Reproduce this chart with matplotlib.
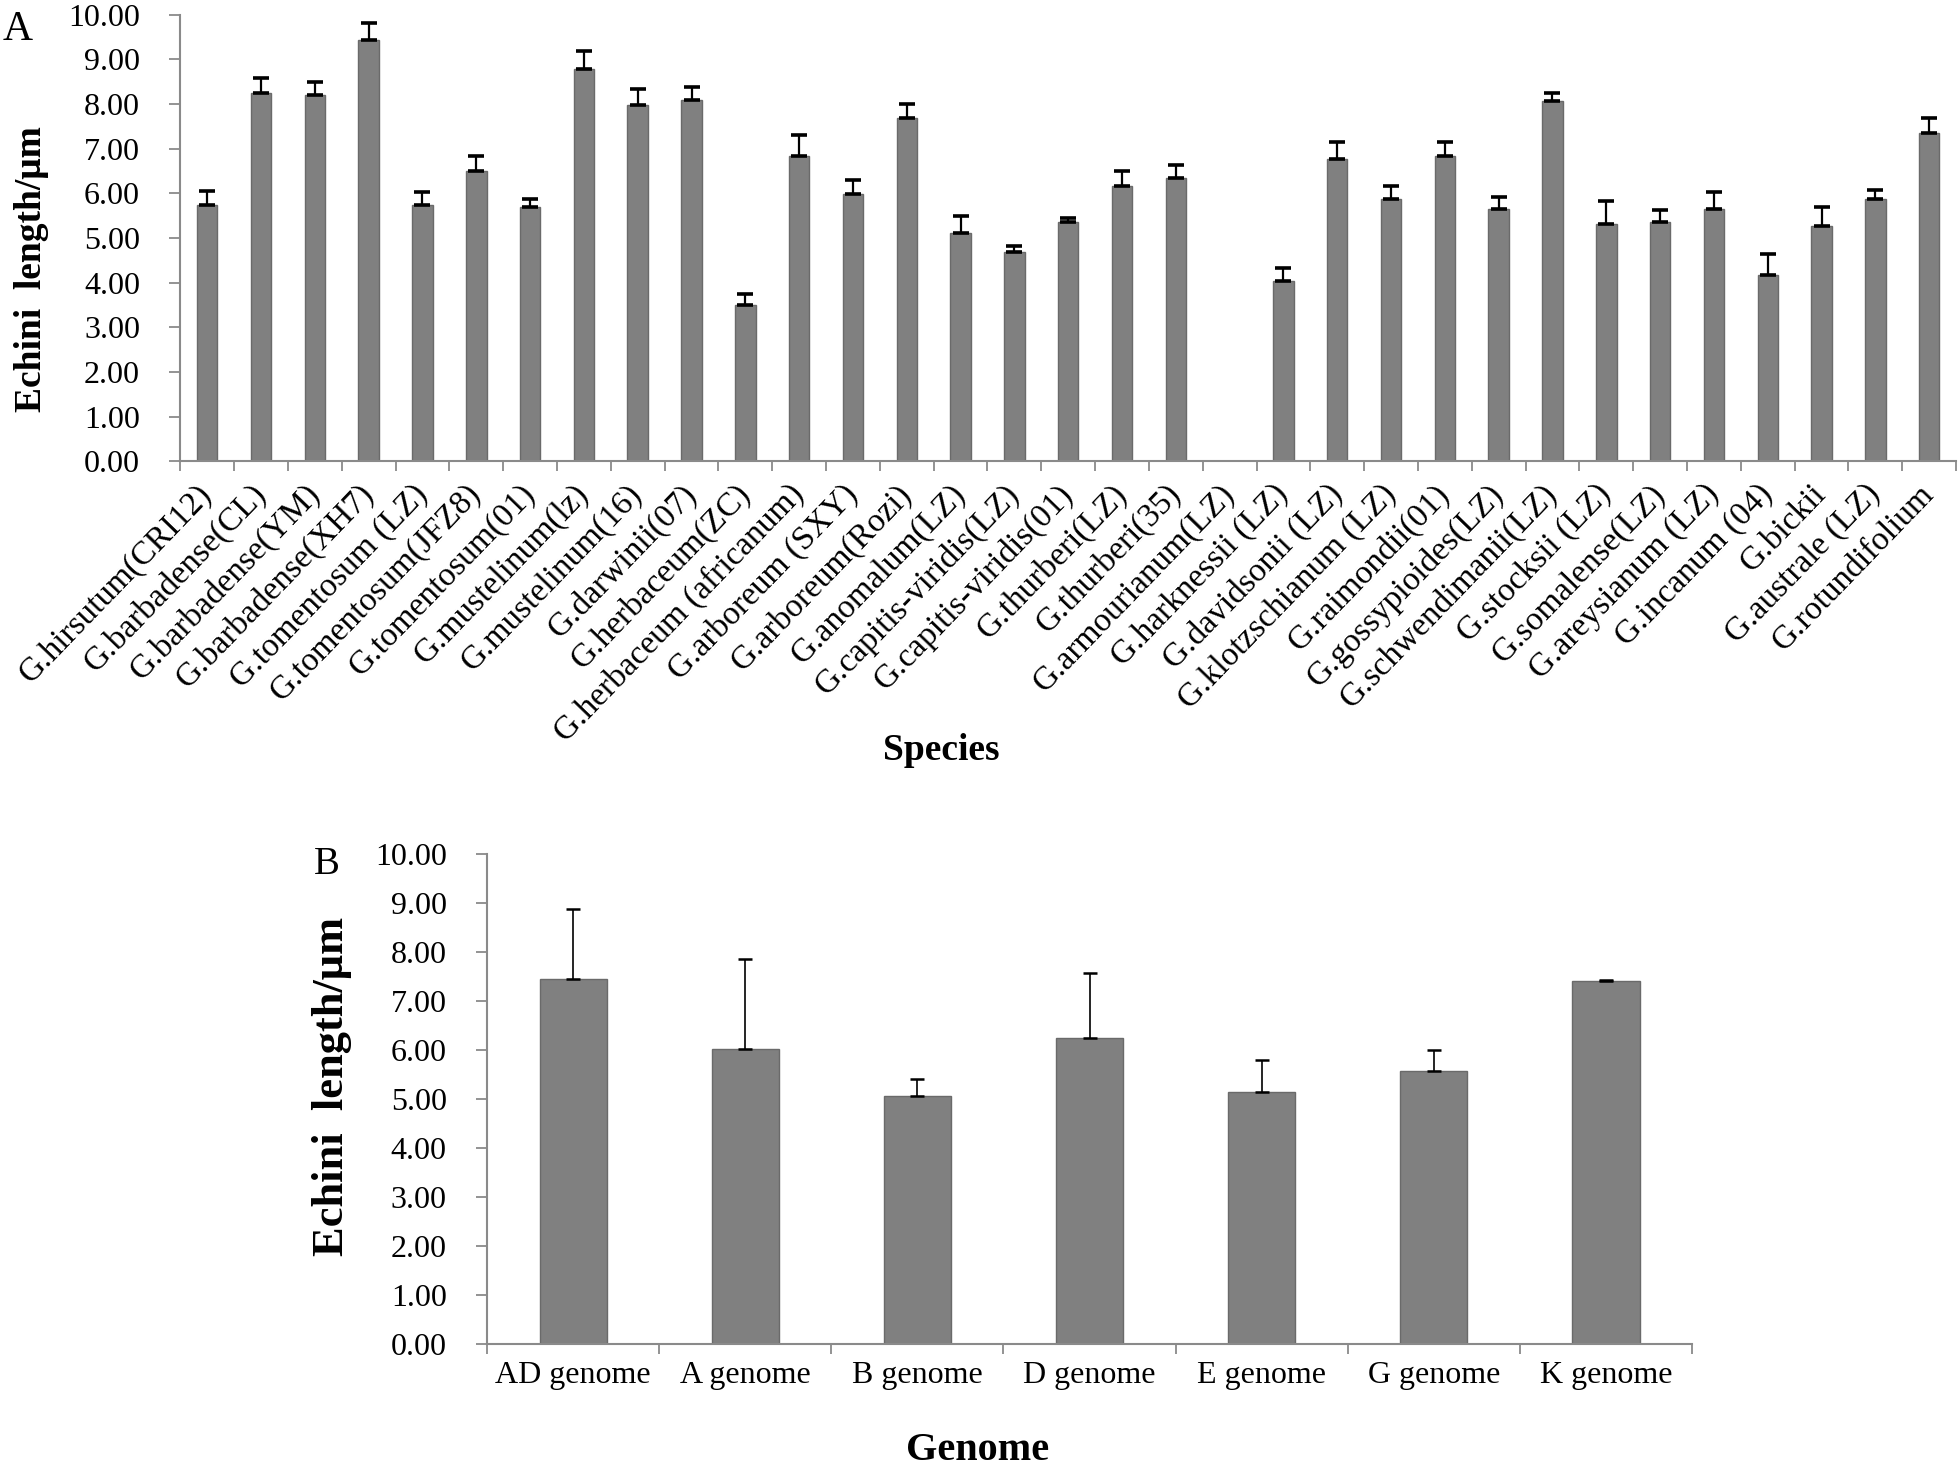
import matplotlib
matplotlib.use("Agg")
import matplotlib.pyplot as plt
import numpy as np

plt.rcParams['font.family'] = ['Liberation Serif', 'DejaVu Serif']

# A: species
species = ["G.hirsutum(CRI12)", "G.barbadense(CL)", "G.barbadense(YM)", "G.barbadense(XH7)",
           "G.tomentosum (LZ)", "G.tomentosum(JFZ8)", "G.tomentosum(01)", "G.mustelinum(lz)",
           "G.mustelinum(16)", "G.darwinii(07)", "G.herbaceum(ZC)", "G.herbaceum (africanum)",
           "G.arboreum (SXY)", "G.arboreum(Rozi)", "G.anomalum(LZ)", "G.capitis-viridis(LZ)",
           "G.capitis-viridis(01)", "G.thurberi(LZ)", "G.thurberi(35)", "G.armourianum(LZ)",
           "G.harknessii (LZ)", "G.davidsonii (LZ)", "G.klotzschianum (LZ)", "G.raimondii(01)",
           "G.gossypioides(LZ)", "G.schwendimanii(LZ)", "G.stocksii (LZ)", "G.somalense(LZ)",
           "G.areysianum (LZ)", "G.incanum (04)", "G.bickii", "G.australe (LZ)", "G.rotundifolium"]
species_mean = [5.74, 8.25, 8.20, 9.44, 5.74, 6.50, 5.69, 8.78, 7.97, 8.10, 3.50, 6.83,
                5.98, 7.68, 5.12, 4.69, 5.36, 6.16, 6.35, 0.0, 4.03, 6.78, 5.88, 6.83,
                5.64, 8.07, 5.32, 5.36, 5.64, 4.17, 5.26, 5.88, 7.36]
species_err = [0.32, 0.34, 0.29, 0.37, 0.28, 0.33, 0.18, 0.41, 0.37, 0.29, 0.24, 0.47,
               0.33, 0.33, 0.38, 0.14, 0.10, 0.34, 0.29, 0.0, 0.29, 0.38, 0.28, 0.33,
               0.29, 0.18, 0.52, 0.27, 0.38, 0.47, 0.43, 0.19, 0.32]

# B: genome
genomes = ["AD genome", "A genome", "B genome", "D genome", "E genome", "G genome", "K genome"]
genome_mean = [7.45, 6.02, 5.06, 6.24, 5.14, 5.58, 7.41]
genome_err = [1.43, 1.83, 0.34, 1.33, 0.66, 0.43, 0.01]

yticks = np.arange(0, 11, 1)
bar_color = "#808080"
edge_color = "#6a6a6a"
axis_color = "#8a8a8a"

fig = plt.figure(figsize=(19.6, 14.65), dpi=100)


def style_axes(ax, n):
    ax.set_ylim(0, 10)
    ax.set_xlim(-0.5, n - 0.5)
    ax.set_yticks(yticks)
    ax.set_yticklabels([f"{v:.2f}" for v in yticks])
    ax.set_xticks(np.arange(n + 1) - 0.5, minor=True)
    ax.tick_params(axis='x', which='major', length=0)
    ax.tick_params(axis='x', which='minor', length=7.5, width=1.3, color=axis_color, direction='out')
    ax.tick_params(axis='y', length=8, width=1.3, color=axis_color, direction='out', pad=21, labelsize=23)
    for s in ['top', 'right']:
        ax.spines[s].set_visible(False)
    for s in ['left', 'bottom']:
        ax.spines[s].set_color(axis_color)
        ax.spines[s].set_linewidth(1.5)


# 上段
ax1 = fig.add_axes([0.092, 0.685, 0.906, 0.305])
x1 = np.arange(len(species))
ax1.bar(x1, species_mean, width=0.38, color=bar_color, edgecolor=edge_color, linewidth=1)
mask = np.array(species_err) > 0
ax1.errorbar(x1[mask], np.array(species_mean)[mask], yerr=[np.zeros(mask.sum()), np.array(species_err)[mask]],
             fmt='none', ecolor='black', elinewidth=1.6, capsize=6, capthick=2.6)
style_axes(ax1, len(species))
ax1.set_xticks(x1)
ax1.set_xticklabels(species, rotation=46, ha='right', va='center', rotation_mode='anchor', fontsize=24)
ax1.tick_params(axis='x', which='major', pad=20)
ax1.set_ylabel("Echini  length/\u03bcm", fontsize=27, fontweight='bold')
ax1.yaxis.set_label_coords(-0.074, 0.43)

# 下段
ax2 = fig.add_axes([0.2485, 0.0826, 0.6148, 0.3344])
x2 = np.arange(len(genomes))
ax2.bar(x2, genome_mean, width=0.39, color=bar_color, edgecolor=edge_color, linewidth=1)
ax2.errorbar(x2, genome_mean, yerr=[np.zeros(len(genomes)), genome_err],
             fmt='none', ecolor='black', elinewidth=1.2, capsize=5, capthick=1.8)
style_axes(ax2, len(genomes))
ax2.set_xticks(x2)
ax2.set_xticklabels(genomes, fontsize=23)
ax2.tick_params(axis='x', which='major', pad=12)
ax2.set_ylabel("Echini  length/\u03bcm", fontsize=32, fontweight='bold')
ax2.yaxis.set_label_coords(-0.112, 0.525)

fig.text(0.48, 0.488, "Species", fontsize=27, fontweight='bold', ha='center', va='center')
fig.text(0.499, 0.01, "Genome", fontsize=29, fontweight='bold', ha='center', va='center')
fig.text(0.0015, 0.980, "A", fontsize=30, ha='left', va='center')
fig.text(0.160, 0.41, "B", fontsize=28, ha='left', va='center')

fig.savefig("out.png", dpi=100)
